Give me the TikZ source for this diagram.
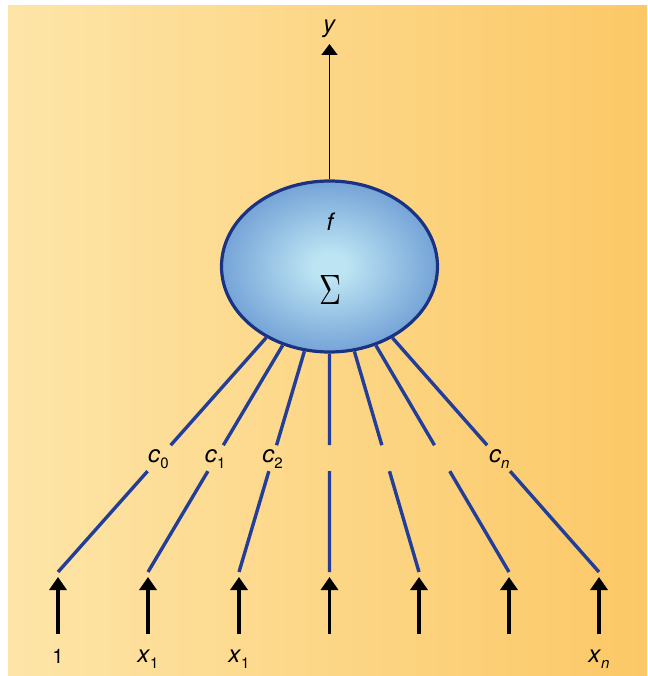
\documentclass[tikz,border=0pt]{standalone}
\usepackage{fontspec}
\setmainfont{TeX Gyre Heros}
\usepackage{graphicx}
\usetikzlibrary{arrows.meta,calc,shapes.geometric}
\definecolor{bgleft}{RGB}{253,229,168}
\definecolor{bgright}{RGB}{252,200,102}
\definecolor{wireblue}{RGB}{34,62,152}
\definecolor{ballin}{RGB}{188,228,243}
\definecolor{ballmid}{RGB}{100,148,208}
\definecolor{ballout}{RGB}{44,78,164}
\definecolor{ballrim}{RGB}{26,50,132}
\pgfdeclareradialshading{bubble}{\pgfpoint{0bp}{0bp}}{color(0bp)=(ballin); color(4bp)=(ballin); color(30bp)=(ballmid); color(50bp)=(ballout); color(70bp)=(ballout)}
\newcommand{\var}[2]{\textit{#1}\raisebox{-0.45ex}{\fontsize{15}{15}\selectfont#2}}
\tikzset{
  wire/.style={draw=wireblue, line width=3.4pt},
  inarrow/.style={line width=3.4pt, -{Triangle[width=17pt,length=13pt]}},
  outarrow/.style={line width=1.6pt, -{Triangle[width=16pt,length=11pt]}},
  varlabel/.style={font=\fontsize{24}{28}\selectfont, inner sep=0pt},
}
\begin{document}
\begin{tikzpicture}[x=1pt, y=-1pt]
\useasboundingbox (0,0) rectangle (647,676);
\fill[white] (0,0) rectangle (647,676);
\shade[left color=bgleft, right color=bgright] (8,6) rectangle (647,676);

% summing unit
\node[ellipse, minimum width=216pt, minimum height=171pt, inner sep=0pt,
      draw=ballrim, line width=3.2pt, shading=bubble] (neuron) at (329.5,266.5) {};
\node[varlabel] (act) at (331,222) {\textit{f}};
\node[inner sep=0pt] (sum) at (330,290) {\resizebox{22pt}{29pt}{$\Sigma$}};

% output
\coordinate (ytip) at (329.5,44);
\draw[outarrow] (neuron) -- (ytip);
\node[varlabel] (yout) at (329.5,29) {\textit{y}};

% inputs
\foreach \i/\xx in {0/58,1/148,2/239,3/329.5,4/419,5/509,6/599}{
  \coordinate (w\i) at (\xx,572);
  \coordinate (t\i) at (\xx,577);
  \coordinate (b\i) at (\xx,634);
  \draw[inarrow] (b\i) -- (t\i);
  \draw[wire] (w\i) -- ($(w\i)!0.33!(neuron.center)$);
  \draw[wire] ($(w\i)!0.415!(neuron.center)$) -- (neuron);
}

% weights
\node[varlabel] (c0) at ($(w0)!0.37!(neuron.center)$) {\var{c}{0}};
\node[varlabel] (c1) at ($(w1)!0.37!(neuron.center)$) {\var{c}{1}};
\node[varlabel] (c2) at ($(w2)!0.37!(neuron.center)$) {\var{c}{2}};
\node[varlabel] (cn) at ($(w6)!0.37!(neuron.center)$) {\var{c}{\textit{n}}};

% input labels
\node[font=\fontsize{20}{24}\selectfont, inner sep=0pt] (x0) at (58,656) {1};
\node[varlabel] (x1) at (148,659) {\var{x}{1}};
\node[varlabel] (x2) at (239,659) {\var{x}{1}};
\node[varlabel] (xn) at (599,659) {\var{x}{\textit{n}}};
\end{tikzpicture}
\end{document}
